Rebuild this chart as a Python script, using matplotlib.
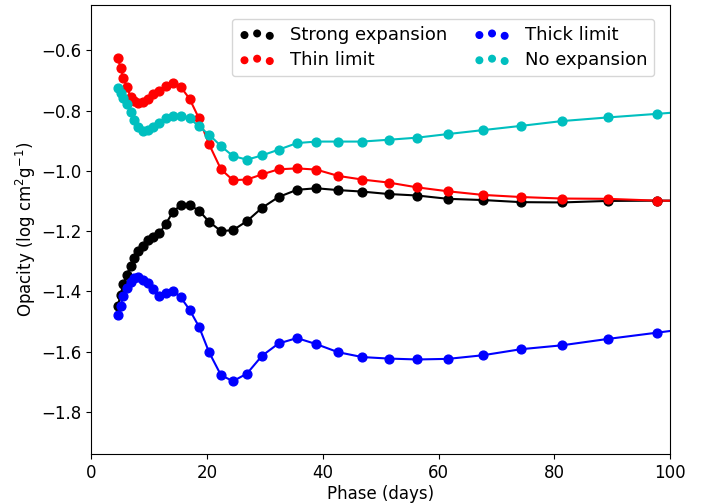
import matplotlib
matplotlib.use("Agg")
import matplotlib.pyplot as plt
import numpy as np

# phase grid shared by all four opacity models (days)
phase = [4.58, 5.06, 5.53, 6.13, 6.79, 7.43, 8.15, 8.93, 9.76, 10.69,
         11.74, 12.92, 14.11, 15.46, 16.98, 18.60, 20.35, 22.40, 24.47, 26.89,
         29.48, 32.35, 35.53, 38.86, 42.66, 46.80, 51.35, 56.30, 61.62, 67.65,
         74.21, 81.30, 89.17, 97.75, 107.1]

strong_expansion = [-1.448, -1.413, -1.376, -1.345, -1.316, -1.288, -1.265, -1.248, -1.230, -1.221,
                    -1.208, -1.175, -1.136, -1.114, -1.114, -1.132, -1.169, -1.200, -1.197, -1.167,
                    -1.123, -1.087, -1.063, -1.058, -1.064, -1.069, -1.077, -1.082, -1.093, -1.097,
                    -1.104, -1.105, -1.100, -1.099, -1.099]

thin_limit = [-0.626, -0.658, -0.691, -0.722, -0.754, -0.770, -0.776, -0.772, -0.762, -0.745,
              -0.735, -0.717, -0.708, -0.722, -0.761, -0.826, -0.912, -0.995, -1.031, -1.029,
              -1.012, -0.995, -0.992, -0.996, -1.017, -1.029, -1.039, -1.055, -1.068, -1.080,
              -1.087, -1.092, -1.093, -1.099, -1.100]

thick_limit = [-1.478, -1.447, -1.416, -1.390, -1.369, -1.355, -1.351, -1.361, -1.373, -1.393,
               -1.415, -1.406, -1.398, -1.420, -1.461, -1.517, -1.602, -1.678, -1.698, -1.673,
               -1.614, -1.573, -1.555, -1.575, -1.602, -1.618, -1.623, -1.626, -1.624, -1.612,
               -1.592, -1.579, -1.558, -1.537, -1.514]

no_expansion = [-0.726, -0.741, -0.759, -0.779, -0.806, -0.832, -0.855, -0.868, -0.866, -0.855,
                -0.841, -0.825, -0.817, -0.817, -0.825, -0.853, -0.880, -0.918, -0.951, -0.963,
                -0.949, -0.930, -0.908, -0.903, -0.903, -0.903, -0.897, -0.890, -0.878, -0.865,
                -0.851, -0.835, -0.823, -0.811, -0.797]

models = [
    ("Strong expansion", strong_expansion, "k"),
    ("Thin limit", thin_limit, "r"),
    ("Thick limit", thick_limit, "b"),
    ("No expansion", no_expansion, "c"),
]

fig = plt.figure(figsize=(7.13, 5.04), dpi=100)
ax = fig.add_axes([0.128, 0.099, 0.812, 0.891])

for label, values, color in models:
    ax.plot(phase, values, color=color, lw=1.5, zorder=2)
    ax.scatter(phase, values, color=color, s=40, label=label, zorder=3)

ax.set_xlim(0, 100)
ax.set_ylim(-1.94, -0.45)
ax.set_xticks(np.arange(0, 101, 20))
ax.set_yticks(np.arange(-1.8, -0.55, 0.2))
ax.tick_params(labelsize=12)
ax.set_xlabel("Phase (days)", fontsize=12, labelpad=2)
ax.set_ylabel("Opacity (log cm$^2$g$^{-1}$)", fontsize=12, labelpad=2)
ax.legend(loc="upper right", ncol=2, fontsize=13, scatterpoints=3, markerscale=0.75,
          columnspacing=1.5, labelspacing=0.4, bbox_to_anchor=(0.988, 0.99))

fig.savefig("out.png", dpi=100)
